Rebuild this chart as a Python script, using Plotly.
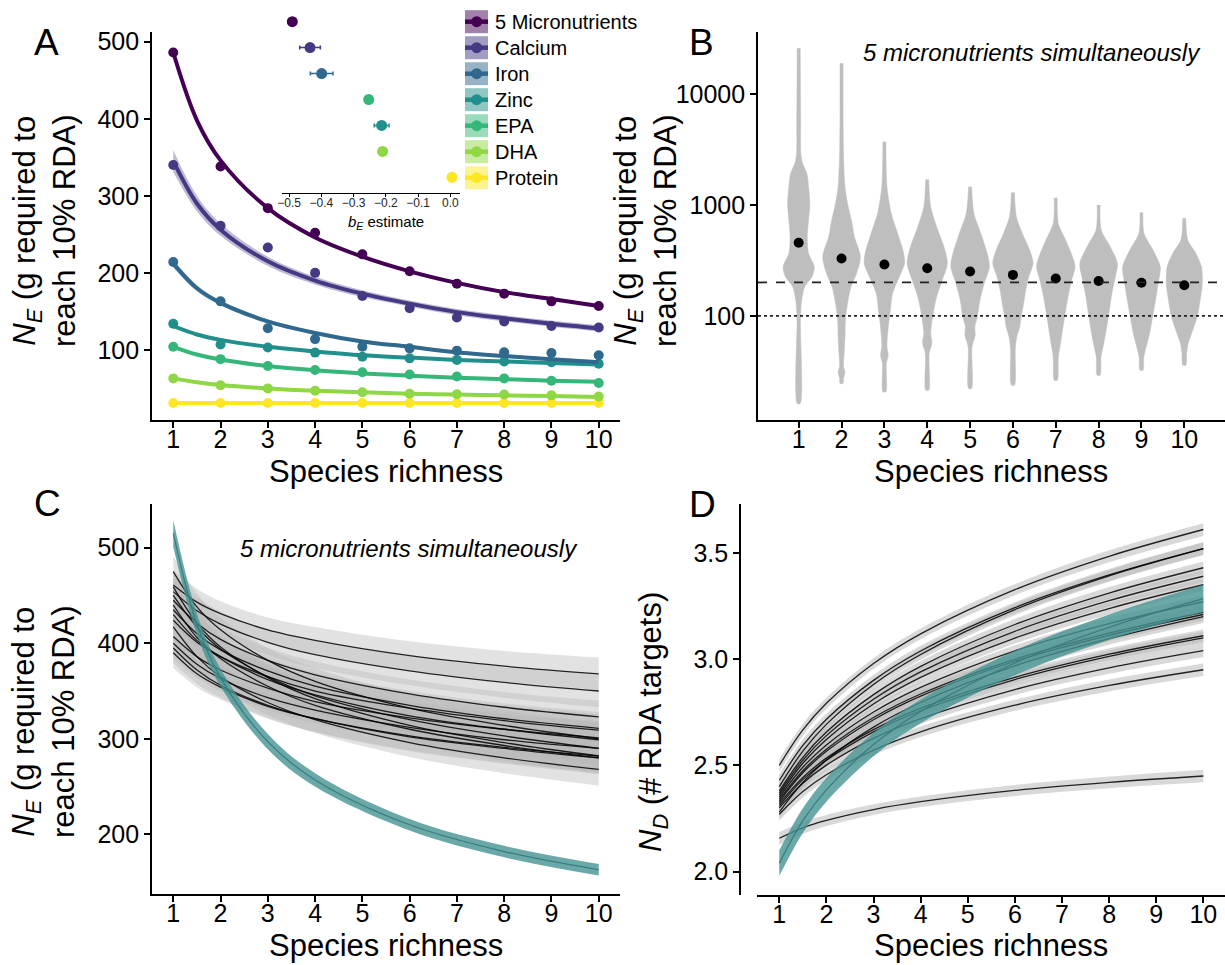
import math
import plotly.graph_objects as go

W, H = 1225, 965
FONT = "Liberation Sans, Arial, Helvetica, sans-serif"


def fx(p):
    return p / W


def fy(p):
    return 1 - p / H


def rgba(hexcol, a):
    h = hexcol.lstrip("#")
    r, g, b = int(h[0:2], 16), int(h[2:4], 16), int(h[4:6], 16)
    return f"rgba({r},{g},{b},{a})"


richness = [1, 2, 3, 4, 5, 6, 7, 8, 9, 10]

# ---------------- Panel A ----------------
nutrients = ["5 Micronutrients", "Calcium", "Iron", "Zinc", "EPA", "DHA", "Protein"]
nutrient_colors = ["#440154", "#443A83", "#31688E", "#21908C", "#35B779", "#8FD744", "#FDE725"]

A_points = [
    [486, 338, 284, 252, 224, 202, 186, 173, 163, 157],
    [340, 261, 233, 200, 170, 154, 142, 137, 131, 129],
    [214, 163, 128, 114, 104, 102, 99, 97, 96, 93],
    [134, 107, 103, 96.5, 91, 89, 87, 85, 84, 82],
    [104, 88, 79, 74, 71, 68, 65.5, 63, 60, 57],
    [63, 54, 50, 47, 45, 43, 42.5, 42, 41, 39.5],
    [31, 31, 31, 31, 31, 31, 31, 31, 31, 31],
]
A_fit_x = [1, 1.5, 2, 3, 4, 5, 6, 7, 8, 9, 10]
A_fit = [
    [486, 398, 346, 284, 246, 221, 202, 187, 175, 166, 157],
    [345, 290, 256, 215, 190, 173, 160, 149, 141, 134, 128],
    [212, 180, 161, 137, 122, 111, 104, 97, 92, 88, 84],
    [131, 120, 113, 104, 98, 93, 90, 87, 85, 83, 81],
    [104, 94, 87.5, 79, 73.5, 69.5, 66.5, 64, 62, 60, 58.5],
    [63, 58, 54.5, 50, 47, 45, 43, 42, 41, 40, 39],
    [31, 31, 31, 31, 31, 31, 31, 31, 31, 31, 31],
]
A_fit_ci = [
    [5, 4, 3, 2.5, 2, 2, 2, 2, 2, 2, 2],
    [14, 10, 8, 6, 5, 4.5, 4, 4, 4, 4, 4],
    [5, 4, 3, 2.5, 2, 2, 2, 2, 2, 2, 2.5],
    [3, 2, 2, 1.5, 1.5, 1.5, 1.5, 1.5, 1.5, 1.5, 2],
    [2.5, 2, 1.5, 1.5, 1.5, 1.5, 1.5, 1.5, 1.5, 1.5, 2],
    [2, 1.5, 1.5, 1, 1, 1, 1, 1, 1, 1, 1.5],
    [1, 1, 1, 1, 1, 1, 1, 1, 1, 1, 1],
]

# inset: b_E estimates
inset_order = ["5 Micronutrients", "Calcium", "Iron", "EPA", "Zinc", "DHA", "Protein"]
inset_est = [-0.49, -0.435, -0.399, -0.253, -0.213, -0.21, 0.005]
inset_err = [0.004, 0.032, 0.035, 0.004, 0.023, 0.004, 0.003]
inset_ticks = [-0.5, -0.4, -0.3, -0.2, -0.1, 0.0]

# ---------------- Panel B ----------------
# violin profiles: log10(N_E) levels (top -> bottom) and half-widths (x units)
violin_log10 = [
    [4.412, 3.765, 3.465, 3.375, 3.284, 3.164, 3.014, 2.863, 2.713, 2.563, 2.442, 2.352, 2.262, 2.112, 1.961, 1.209],
    [4.277, 3.465, 3.164, 3.014, 2.863, 2.713, 2.533, 2.382, 2.262, 2.112, 1.961, 1.811, 1.660, 1.540, 1.495, 1.435, 1.390],
    [3.570, 3.164, 2.923, 2.743, 2.563, 2.472, 2.352, 2.202, 2.051, 1.901, 1.721, 1.646, 1.570, 1.315],
    [3.230, 2.984, 2.803, 2.623, 2.472, 2.322, 2.172, 2.021, 1.841, 1.757, 1.660, 1.330],
    [3.164, 2.923, 2.743, 2.563, 2.442, 2.292, 2.142, 1.991, 1.901, 1.826, 1.721, 1.345],
    [3.113, 2.893, 2.743, 2.593, 2.472, 2.352, 2.232, 2.112, 1.991, 1.901, 1.811, 1.690, 1.375],
    [3.065, 2.833, 2.683, 2.533, 2.442, 2.322, 2.202, 2.051, 1.901, 1.751, 1.630, 1.420],
    [2.999, 2.773, 2.623, 2.472, 2.352, 2.202, 2.051, 1.901, 1.751, 1.630, 1.465],
    [2.933, 2.743, 2.593, 2.442, 2.292, 2.142, 1.991, 1.841, 1.690, 1.630, 1.510],
    [2.879, 2.683, 2.563, 2.442, 2.292, 2.142, 1.991, 1.841, 1.751, 1.660, 1.555],
]
violin_halfwidth = [
    [0.035, 0.045, 0.05, 0.09, 0.19, 0.23, 0.26, 0.23, 0.20, 0.23, 0.365, 0.31, 0.14, 0.06, 0.04, 0.035],
    [0.035, 0.045, 0.08, 0.14, 0.23, 0.30, 0.44, 0.35, 0.22, 0.14, 0.09, 0.08, 0.06, 0.045, 0.08, 0.045, 0.035],
    [0.035, 0.06, 0.16, 0.31, 0.45, 0.47, 0.35, 0.19, 0.14, 0.09, 0.06, 0.09, 0.045, 0.035],
    [0.035, 0.08, 0.22, 0.39, 0.47, 0.35, 0.22, 0.14, 0.08, 0.11, 0.045, 0.035],
    [0.035, 0.09, 0.25, 0.40, 0.45, 0.33, 0.23, 0.17, 0.11, 0.12, 0.045, 0.035],
    [0.035, 0.08, 0.22, 0.39, 0.47, 0.37, 0.30, 0.25, 0.19, 0.16, 0.09, 0.055, 0.035],
    [0.035, 0.06, 0.23, 0.39, 0.45, 0.37, 0.30, 0.23, 0.17, 0.11, 0.06, 0.035],
    [0.035, 0.06, 0.27, 0.44, 0.39, 0.31, 0.25, 0.19, 0.12, 0.055, 0.035],
    [0.035, 0.06, 0.27, 0.44, 0.39, 0.33, 0.26, 0.19, 0.09, 0.055, 0.035],
    [0.035, 0.08, 0.27, 0.40, 0.42, 0.37, 0.30, 0.17, 0.09, 0.055, 0.035],
]
B_medians = [456, 329, 290, 269, 251, 234, 217, 206, 199, 189]
B_ref_dashed = 200
B_ref_dotted = 100

# ---------------- Panel C ----------------
CD_x = [1, 1.5, 2, 3, 4, 6, 8, 10]
C_lines = [
    [475, 438, 414, 382, 360, 332, 314, 300],
    [461, 443, 431, 414, 403, 387, 376, 368],
    [459, 421, 396, 364, 342, 314, 296, 282],
    [454, 434, 420, 401, 388, 371, 359, 350],
    [450, 417, 394, 365, 345, 320, 303, 290],
    [445, 421, 404, 382, 367, 347, 333, 323],
    [440, 406, 384, 355, 335, 310, 293, 280],
    [435, 410, 393, 371, 355, 335, 321, 311],
    [430, 403, 386, 362, 346, 324, 310, 299],
    [424, 401, 386, 365, 350, 332, 319, 309],
    [417, 386, 365, 338, 320, 296, 280, 268],
    [407, 386, 372, 353, 339, 322, 310, 301],
    [400, 378, 363, 343, 330, 312, 299, 290],
    [395, 372, 356, 335, 321, 302, 290, 280],
    [390, 368, 354, 334, 321, 303, 291, 282],
]
C_ci = [16, 14, 13, 13, 14, 15, 16, 17]
C_all_fish = [515, 420, 364, 297, 257, 210, 182, 163]
C_all_ci = [14, 11, 9, 8, 7, 6, 6, 6]

# ---------------- Panel D ----------------
D_lines = [
    [2.50, 2.667, 2.792, 2.979, 3.119, 3.327, 3.484, 3.61],
    [2.43, 2.594, 2.717, 2.900, 3.038, 3.242, 3.396, 3.52],
    [2.40, 2.567, 2.693, 2.881, 3.022, 3.233, 3.392, 3.52],
    [2.38, 2.538, 2.657, 2.833, 2.966, 3.163, 3.311, 3.43],
    [2.37, 2.524, 2.640, 2.811, 2.940, 3.131, 3.275, 3.39],
    [2.36, 2.510, 2.622, 2.789, 2.914, 3.099, 3.238, 3.35],
    [2.35, 2.491, 2.596, 2.751, 2.867, 3.039, 3.167, 3.27],
    [2.34, 2.475, 2.576, 2.725, 2.836, 2.999, 3.122, 3.22],
    [2.33, 2.465, 2.566, 2.715, 2.826, 2.990, 3.112, 3.21],
    [2.32, 2.443, 2.534, 2.668, 2.768, 2.914, 3.023, 3.11],
    [2.31, 2.433, 2.524, 2.658, 2.757, 2.904, 3.013, 3.10],
    [2.30, 2.416, 2.501, 2.627, 2.720, 2.857, 2.959, 3.04],
    [2.28, 2.420, 2.525, 2.680, 2.796, 2.968, 3.096, 3.20],
    [2.27, 2.377, 2.456, 2.572, 2.658, 2.783, 2.876, 2.95],
    [2.157, 2.206, 2.241, 2.292, 2.329, 2.382, 2.420, 2.45],
]
D_ci = [0.03, 0.028, 0.026, 0.025, 0.025, 0.026, 0.028, 0.03]
D_all_fish = [2.04, 2.24, 2.385, 2.598, 2.754, 2.982, 3.15, 3.285]
D_all_ci = [0.06, 0.058, 0.056, 0.055, 0.056, 0.058, 0.06, 0.065]

TEAL_FILL = "rgba(70,146,146,0.8)"
TEAL_LINE = "rgba(55,125,128,1)"

fig = go.Figure()


def ribbon(xs, mid, half, xa, ya, color):
    up = [m + h for m, h in zip(mid, half)]
    lo = [m - h for m, h in zip(mid, half)]
    fig.add_trace(go.Scatter(x=xs, y=lo, mode="lines", line=dict(width=0, shape="spline"),
                             xaxis=xa, yaxis=ya, hoverinfo="skip", showlegend=False))
    fig.add_trace(go.Scatter(x=xs, y=up, mode="lines", line=dict(width=0, shape="spline"),
                             fill="tonexty", fillcolor=color,
                             xaxis=xa, yaxis=ya, hoverinfo="skip", showlegend=False))


# ---- Panel A traces
for i in range(len(nutrients) - 1, -1, -1):
    ribbon(A_fit_x, A_fit[i], A_fit_ci[i], "x", "y", rgba(nutrient_colors[i], 0.35))
for i in range(len(nutrients) - 1, -1, -1):
    col = nutrient_colors[i]
    fig.add_trace(go.Scatter(x=A_fit_x, y=A_fit[i], mode="lines",
                             line=dict(color=col, width=4, shape="spline"),
                             xaxis="x", yaxis="y", showlegend=False))
    fig.add_trace(go.Scatter(x=richness, y=A_points[i], mode="markers",
                             marker=dict(color=col, size=10),
                             xaxis="x", yaxis="y", showlegend=False))

# inset
for name, est, err in zip(inset_order, inset_est, inset_err):
    col = nutrient_colors[nutrients.index(name)]
    fig.add_trace(go.Scatter(
        x=[est], y=[name], mode="markers", marker=dict(color=col, size=11),
        error_x=dict(type="data", array=[err], color=col, thickness=1.5, width=2),
        xaxis="x5", yaxis="y5", showlegend=False))

# ---- Panel B traces
for k in range(len(richness)):
    xc = richness[k]
    ys = [10 ** v for v in violin_log10[k]]
    xr = [xc + w for w in violin_halfwidth[k]]
    xl = [xc - w for w in violin_halfwidth[k]]
    fig.add_trace(go.Scatter(
        x=xr + xl[::-1], y=ys + ys[::-1], fill="toself", fillcolor="#BEBEBE",
        mode="lines", line=dict(width=0.5, color="#BEBEBE", shape="spline", smoothing=0.8),
        xaxis="x2", yaxis="y2", hoverinfo="skip", showlegend=False))
fig.add_trace(go.Scatter(x=richness, y=B_medians, mode="markers",
                         marker=dict(color="black", size=10),
                         xaxis="x2", yaxis="y2", showlegend=False))

# ---- Panel C traces
for line in C_lines:
    ribbon(CD_x, line, C_ci, "x3", "y3", "rgba(185,185,185,0.42)")
for line in C_lines:
    fig.add_trace(go.Scatter(x=CD_x, y=line, mode="lines",
                             line=dict(color="rgba(0,0,0,0.85)", width=1.3, shape="spline"),
                             xaxis="x3", yaxis="y3", showlegend=False))
ribbon(CD_x, C_all_fish, C_all_ci, "x3", "y3", TEAL_FILL)
fig.add_trace(go.Scatter(x=CD_x, y=C_all_fish, mode="lines",
                         line=dict(color=TEAL_LINE, width=1.2, shape="spline"),
                         xaxis="x3", yaxis="y3", showlegend=False))

# ---- Panel D traces
for line in D_lines:
    ribbon(CD_x, line, D_ci, "x4", "y4", "rgba(185,185,185,0.55)")
for line in D_lines:
    fig.add_trace(go.Scatter(x=CD_x, y=line, mode="lines",
                             line=dict(color="rgba(0,0,0,0.85)", width=1.3, shape="spline"),
                             xaxis="x4", yaxis="y4", showlegend=False))
ribbon(CD_x, D_all_fish, D_all_ci, "x4", "y4", TEAL_FILL)
fig.add_trace(go.Scatter(x=CD_x, y=D_all_fish, mode="lines",
                         line=dict(color=TEAL_LINE, width=1.2, shape="spline"),
                         xaxis="x4", yaxis="y4", showlegend=False))


# ---- Axes
def ax(**kw):
    d = dict(showline=True, linecolor="black", linewidth=1.6, ticks="outside", ticklen=6,
             tickwidth=1.5, tickcolor="black", showgrid=False, zeroline=False,
             tickfont=dict(size=25, color="black", family=FONT), fixedrange=True)
    d.update(kw)
    return d


XSO = -10
fig.update_layout(
    xaxis=ax(domain=[fx(152), fx(620)], range=[0.55, 10.45], anchor="y", tickvals=richness,
             ticklabelstandoff=XSO),
    yaxis=ax(domain=[fy(420), fy(31.7)], range=[9, 513], anchor="x", tickvals=[100, 200, 300, 400, 500]),
    xaxis2=ax(domain=[fx(758), fx(1225)], range=[0.05, 10.95], anchor="y2", tickvals=richness,
              ticklabelstandoff=XSO),
    yaxis2=ax(domain=[fy(420), fy(31.7)], type="log", range=[math.log10(11.5), math.log10(36500)],
              anchor="x2", tickvals=[100, 1000, 10000], ticktext=["100", "1000", "10000"]),
    xaxis3=ax(domain=[fx(152), fx(620)], range=[0.55, 10.45], anchor="y3", tickvals=richness,
              ticklabelstandoff=XSO),
    yaxis3=ax(domain=[fy(894), fy(504)], range=[137.6, 545.7], anchor="x3", tickvals=[200, 300, 400, 500]),
    xaxis4=ax(domain=[fx(757), fx(1225)], range=[0.527, 10.46], anchor="y4", tickvals=richness,
              ticklabelstandoff=XSO),
    yaxis4=ax(domain=[fy(895), fy(504)], range=[1.89, 3.73], anchor="free", position=fx(740),
              tickvals=[2.0, 2.5, 3.0, 3.5], tickformat=".1f"),
    xaxis5=ax(domain=[fx(282.3), fx(460)], range=[-0.521, 0.03], anchor="y5", tickvals=inset_ticks,
              tickformat=".1f", ticklen=3, tickwidth=1, linewidth=1.2, ticklabelstandoff=-4,
              tickfont=dict(size=12, color="#222", family=FONT)),
    yaxis5=dict(domain=[fy(192.9), fy(6.1)], type="category", categoryorder="array",
                categoryarray=inset_order, range=[6.6, -0.6], visible=False, anchor="x5",
                fixedrange=True),
)

shapes = [
    dict(type="line", xref="x2 domain", yref="y2", x0=0, x1=1, y0=B_ref_dashed, y1=B_ref_dashed,
         line=dict(color="#222", width=1.8, dash="dash"), layer="above"),
    dict(type="line", xref="x2 domain", yref="y2", x0=0, x1=1, y0=B_ref_dotted, y1=B_ref_dotted,
         line=dict(color="#222", width=1.8, dash="dot"), layer="above"),
]

# manual legend for panel A
annotations = []
for i, (name, col) in enumerate(zip(nutrients, nutrient_colors)):
    cy = 21.7 + 26 * i
    shapes.append(dict(type="rect", xref="paper", yref="paper", x0=fx(465), x1=fx(488),
                       y0=fy(cy + 11.5), y1=fy(cy - 11.5), fillcolor=rgba(col, 0.5),
                       line=dict(width=0), layer="above"))
    shapes.append(dict(type="line", xref="paper", yref="paper", x0=fx(465), x1=fx(488),
                       y0=fy(cy), y1=fy(cy), line=dict(color=col, width=4.5), layer="above"))
    shapes.append(dict(type="circle", xref="paper", yref="paper", x0=fx(471.2), x1=fx(482.2),
                       y0=fy(cy + 5.5), y1=fy(cy - 5.5), fillcolor=col, line=dict(width=0),
                       layer="above"))
    annotations.append(dict(text=name, x=fx(493), y=fy(cy), xref="paper", yref="paper",
                            xanchor="left", yanchor="middle", showarrow=False,
                            font=dict(size=20, color="black", family=FONT)))


def txt(text, x, y, size, angle=0, **kw):
    d = dict(text=text, x=fx(x), y=fy(y), xref="paper", yref="paper", xanchor="center",
             yanchor="middle", showarrow=False, textangle=angle,
             font=dict(size=size, color="black", family=FONT))
    d.update(kw)
    annotations.append(d)


ytitle2 = "<i>N</i><sub><i>E</i></sub> (g required to<br>reach 10% RDA)"
txt("A", 46, 42, 37)
txt("B", 701, 43, 37)
txt("C", 47, 503, 37)
txt("D", 702, 504, 37)
txt("Species richness", 386, 471, 31)
txt("Species richness", 991, 471, 31)
txt("Species richness", 386, 945, 31)
txt("Species richness", 991, 945, 31)
txt(ytitle2, 44, 231, 31, angle=-90)
txt(ytitle2, 645, 231, 31, angle=-90)
txt(ytitle2, 43, 722, 31, angle=-90)
txt("<i>N</i><sub><i>D</i></sub> (# RDA targets)", 653, 722, 31, angle=-90)
txt("<i>5 micronutrients simultaneously</i>", 1032, 53, 24)
txt("<i>5 micronutrients simultaneously</i>", 409, 548, 24)
txt("<i>b</i><sub><i>E</i></sub> estimate", 386, 222, 15)

fig.update_layout(
    width=W, height=H, margin=dict(l=0, r=0, t=0, b=0),
    paper_bgcolor="white", plot_bgcolor="rgba(0,0,0,0)", template="none",
    showlegend=False, shapes=shapes, annotations=annotations,
    font=dict(family=FONT, color="black"),
)

fig.write_html("out.html", config={"displayModeBar": False},
               post_script="document.body.style.margin='0';document.body.style.overflow='hidden';")
